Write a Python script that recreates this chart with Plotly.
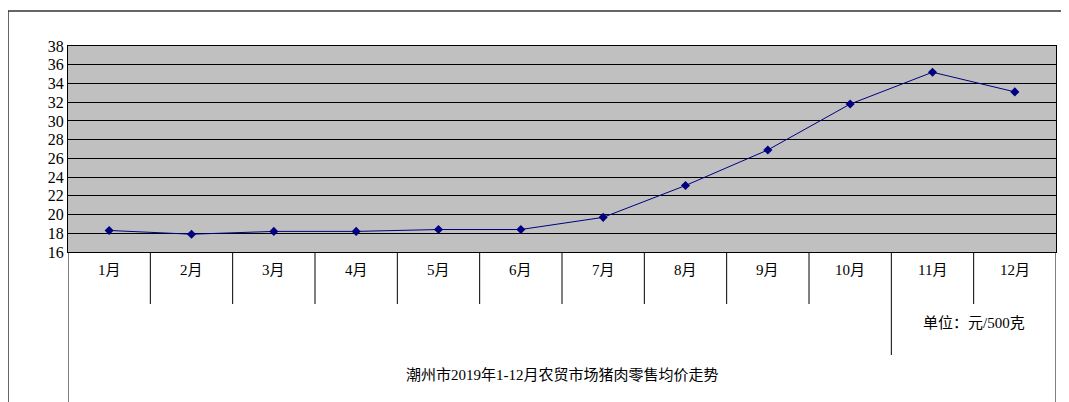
import plotly.graph_objects as go

months = ["1月", "2月", "3月", "4月", "5月", "6月", "7月", "8月", "9月", "10月", "11月", "12月"]
prices = [18.3, 17.9, 18.2, 18.2, 18.4, 18.4, 19.7, 23.1, 26.9, 31.8, 35.2, 33.1]
y_ticks = list(range(16, 39, 2))

font = "Liberation Serif, Noto Sans CJK SC, serif"
H = 206  # plot height in px, for paper conversion


def py(p):
    return (244 - p) / H


xs = list(range(len(months)))
fig = go.Figure(go.Scatter(
    x=xs, y=prices, mode="lines+markers",
    line=dict(color="#000080", width=1),
    marker=dict(symbol="diamond", size=7, color="#000080"),
))

shapes = []
# month separators
for k in range(len(months) + 1):
    xv = k - 0.5
    if k in (0, len(months)):
        y1 = py(396)
    elif k == 10:
        y1 = py(347)
    else:
        y1 = py(296)
    shapes.append(dict(type="line", xref="x", yref="paper", x0=xv, x1=xv, y0=0, y1=y1,
                       line=dict(color="black", width=1)))
# outer frame
shapes.append(dict(type="rect", xref="paper", yref="paper", x0=-60 / 988, x1=1 + 18 / 988,
                   y0=py(398), y1=py(3), line=dict(color="#333", width=1.5)))

annotations = [dict(x=i, y=py(272), xref="x", yref="paper", text=m, showarrow=False,
                    font=dict(family=font, size=15, color="black")) for i, m in enumerate(months)]
annotations.append(dict(x=10.5, y=py(325), xref="x", yref="paper", text="单位：元/500克",
                        showarrow=False, font=dict(family=font, size=15, color="black")))
annotations.append(dict(x=0.5, y=py(377), xref="paper", yref="paper",
                        text="潮州市2019年1-12月农贸市场猪肉零售均价走势",
                        showarrow=False, font=dict(family=font, size=15, color="black")))

fig.update_layout(
    width=1069, height=402,
    margin=dict(l=60, r=21, t=38, b=158),
    paper_bgcolor="white", plot_bgcolor="#c0c0c0",
    showlegend=False,
    shapes=shapes, annotations=annotations,
    xaxis=dict(range=[-0.5, 11.5], showticklabels=False, showgrid=False, zeroline=False,
               showline=True, linecolor="black", mirror=True),
    yaxis=dict(range=[16, 38], tickvals=y_ticks, showgrid=True, gridcolor="black", gridwidth=1,
               zeroline=False, showline=True, linecolor="black", mirror=True,
               tickfont=dict(family=font, size=16, color="black"), ticks=""),
)

fig.write_html("out.html")
